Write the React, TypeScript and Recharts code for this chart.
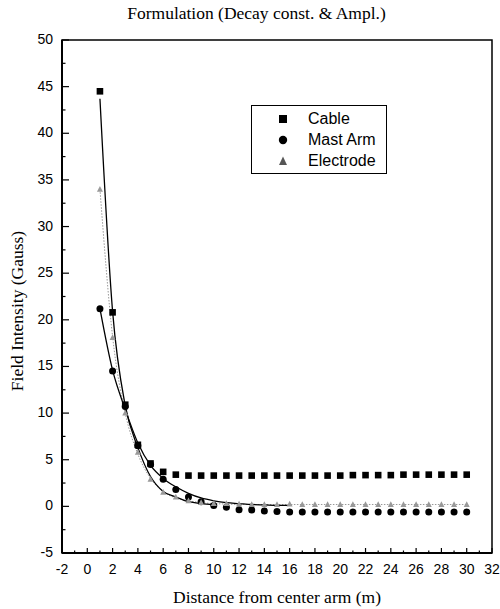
import React from "react";
import {
  ComposedChart,
  Line,
  XAxis,
  YAxis,
  Legend,
  ReferenceArea,
} from "recharts";

const distances = [1, 2, 3, 4, 5, 6, 7, 8, 9, 10, 11, 12, 13, 14, 15, 16, 17, 18, 19, 20, 21, 22, 23, 24, 25, 26, 27, 28, 29, 30];

const cable = [44.5, 20.8, 10.9, 6.6, 4.6, 3.7, 3.4, 3.3, 3.3, 3.3, 3.3, 3.3, 3.3, 3.3, 3.3, 3.3, 3.3, 3.3, 3.3, 3.3, 3.35, 3.35, 3.35, 3.35, 3.4, 3.4, 3.4, 3.4, 3.4, 3.4];
const mastArm = [21.2, 14.5, 10.7, 6.5, 4.5, 2.9, 1.8, 1.0, 0.5, 0.1, -0.1, -0.35, -0.4, -0.5, -0.55, -0.6, -0.6, -0.6, -0.6, -0.6, -0.6, -0.6, -0.6, -0.6, -0.6, -0.6, -0.6, -0.6, -0.6, -0.6];
const electrode = [34, 18.1, 10.0, 5.8, 2.9, 1.5, 1.0, 0.6, 0.4, 0.3, 0.3, 0.25, 0.2, 0.2, 0.2, 0.25, 0.2, 0.2, 0.2, 0.2, 0.2, 0.2, 0.2, 0.2, 0.2, 0.2, 0.2, 0.2, 0.2, 0.2];

// fitted curves (decay const. & amplitude)
const cableFit = [43.7, 20.9, 10.8, 6.3, 3.2, 1.6, 1.0, 0.5, 0.3, 0.2];
const mastArmFit = [21.2, 14.6, 10.4, 6.8, 4.4, 3.0, 2.1, 1.4, 0.9, 0.6, 0.4, 0.3, 0.2, 0.15, 0.1, 0.1];
const electrodeFit = [34, 18.2, 10.0, 5.6, 3.0, 1.6, 0.9, 0.6, 0.4, 0.3, 0.25, 0.2, 0.2, 0.2, 0.2, 0.2, 0.2, 0.2, 0.2, 0.2, 0.2, 0.2, 0.2, 0.2, 0.2, 0.2, 0.2, 0.2, 0.2, 0.2];

const xTicks = [-2, -1, 0, 1, 2, 3, 4, 5, 6, 7, 8, 9, 10, 11, 12, 13, 14, 15, 16, 17, 18, 19, 20, 21, 22, 23, 24, 25, 26, 27, 28, 29, 30, 31, 32];
const yTicks = [-5, -2.5, 0, 2.5, 5, 7.5, 10, 12.5, 15, 17.5, 20, 22.5, 25, 27.5, 30, 32.5, 35, 37.5, 40, 42.5, 45, 47.5, 50];

const data = distances.map((x, i) => ({
  x,
  cable: cable[i],
  mastArm: mastArm[i],
  electrode: electrode[i],
  cableFit: i < cableFit.length ? cableFit[i] : null,
  mastArmFit: i < mastArmFit.length ? mastArmFit[i] : null,
  electrodeFit: electrodeFit[i],
}));

const SANS = "'Liberation Sans', Arial, sans-serif";
const SERIF = "'Liberation Serif', 'Times New Roman', serif";

function XTick({ x, y, payload }: any) {
  const major = payload.value % 2 === 0;
  return (
    <g>
      <line x1={x} x2={x} y1={y} y2={y - (major ? 5 : 2.5)} stroke="#000" strokeWidth={1.2} />
      {major && (
        <text x={x} y={y + 20.5} textAnchor="middle" fontFamily={SANS} fontSize={14} fill="#000">
          {payload.value}
        </text>
      )}
    </g>
  );
}

function YTick({ x, y, payload }: any) {
  const major = payload.value % 5 === 0;
  return (
    <g>
      <line x1={x} x2={x + (major ? 7 : 3.5)} y1={y} y2={y} stroke="#000" strokeWidth={1.2} />
      {major && (
        <text x={x - 9} y={y + 4} textAnchor="end" fontFamily={SANS} fontSize={14} fill="#000">
          {payload.value}
        </text>
      )}
    </g>
  );
}

function Square({ cx, cy, value }: any) {
  if (value == null || cx == null) return null;
  return <rect x={cx - 3.3} y={cy - 3.3} width={6.6} height={6.6} fill="#000" />;
}

function Circle({ cx, cy, value }: any) {
  if (value == null || cx == null) return null;
  return <circle cx={cx} cy={cy} r={3.5} fill="#000" />;
}

function Triangle({ cx, cy, value }: any) {
  if (value == null || cx == null) return null;
  return <path d={`M${cx},${cy - 3.3}L${cx + 3},${cy + 2.4}L${cx - 3},${cy + 2.4}Z`} fill="#999" />;
}

function LegendBox() {
  const rows = [
    { name: "Cable", icon: <rect x={2} y={2} width={8} height={8} fill="#000" /> },
    { name: "Mast Arm", icon: <circle cx={6} cy={6} r={4.2} fill="#000" /> },
    { name: "Electrode", icon: <path d="M6,1.5L10,10L2,10Z" fill="#555" /> },
  ];
  return (
    <div
      style={{
        border: "1.5px solid #000",
        width: 136,
        height: 69,
        boxSizing: "border-box",
        paddingTop: 3,
        background: "#fff",
      }}
    >
      {rows.map((r) => (
        <div key={r.name} style={{ display: "flex", alignItems: "center", height: 20.8 }}>
          <svg width={12} height={12} style={{ marginLeft: 25, marginRight: 19 }}>
            {r.icon}
          </svg>
          <span style={{ fontFamily: SANS, fontSize: 16, color: "#000" }}>{r.name}</span>
        </div>
      ))}
    </div>
  );
}

export default function App() {
  return (
    <div style={{ position: "absolute", left: 0, top: 0, width: 500, height: 609, background: "#fff" }}>
      <div
        style={{
          position: "absolute",
          left: 0,
          top: 3,
          width: 513,
          textAlign: "center",
          fontFamily: SERIF,
          fontSize: 17.5,
          color: "#000",
        }}
      >
        Formulation (Decay const. &amp; Ampl.)
      </div>
      <ComposedChart
        width={500}
        height={609}
        data={data}
        margin={{ top: 40, right: 8, bottom: 0, left: 0 }}
      >
        <XAxis
          dataKey="x"
          type="number"
          domain={[-2, 32]}
          ticks={xTicks}
          interval={0}
          height={56}
          tickSize={0}
          tickMargin={0}
          tick={<XTick />}
          axisLine={{ stroke: "#000", strokeWidth: 2 }}
          label={{
            content: () => (
              <text x={277} y={603} textAnchor="middle" fontFamily={SERIF} fontSize={17.5} fill="#000">
                Distance from center arm (m)
              </text>
            ),
          }}
        />
        <YAxis
          type="number"
          domain={[-5, 50]}
          ticks={yTicks}
          interval={0}
          width={62}
          tickSize={0}
          tickMargin={0}
          tick={<YTick />}
          axisLine={{ stroke: "#000", strokeWidth: 2 }}
          label={{
            content: () => (
              <text
                x={23}
                y={311}
                transform="rotate(-90 23 311)"
                textAnchor="middle"
                fontFamily={SERIF}
                fontSize={17.5}
                fill="#000"
              >
                Field Intensity (Gauss)
              </text>
            ),
          }}
        />
        <ReferenceArea
          x1={-2}
          x2={32}
          y1={-5}
          y2={50}
          fill="none"
          stroke="#000"
          strokeWidth={1.5}
          ifOverflow="visible"
        />
        <Line
          dataKey="electrodeFit"
          type="monotone"
          stroke="#999"
          strokeWidth={1}
          strokeDasharray="1.5 1.5"
          dot={false}
          isAnimationActive={false}
        />
        <Line dataKey="cableFit" type="monotone" stroke="#000" strokeWidth={1.3} dot={false} isAnimationActive={false} />
        <Line dataKey="mastArmFit" type="monotone" stroke="#000" strokeWidth={1.3} dot={false} isAnimationActive={false} />
        <Line dataKey="cable" stroke="none" dot={<Square />} activeDot={false} isAnimationActive={false} />
        <Line dataKey="mastArm" stroke="none" dot={<Circle />} activeDot={false} isAnimationActive={false} />
        <Line dataKey="electrode" stroke="none" dot={<Triangle />} activeDot={false} isAnimationActive={false} />
        <Legend
          layout="vertical"
          align="center"
          verticalAlign="middle"
          content={() => <LegendBox />}
          wrapperStyle={{ position: "absolute", left: 251, top: 105, width: 136, height: 69 }}
        />
      </ComposedChart>
    </div>
  );
}
